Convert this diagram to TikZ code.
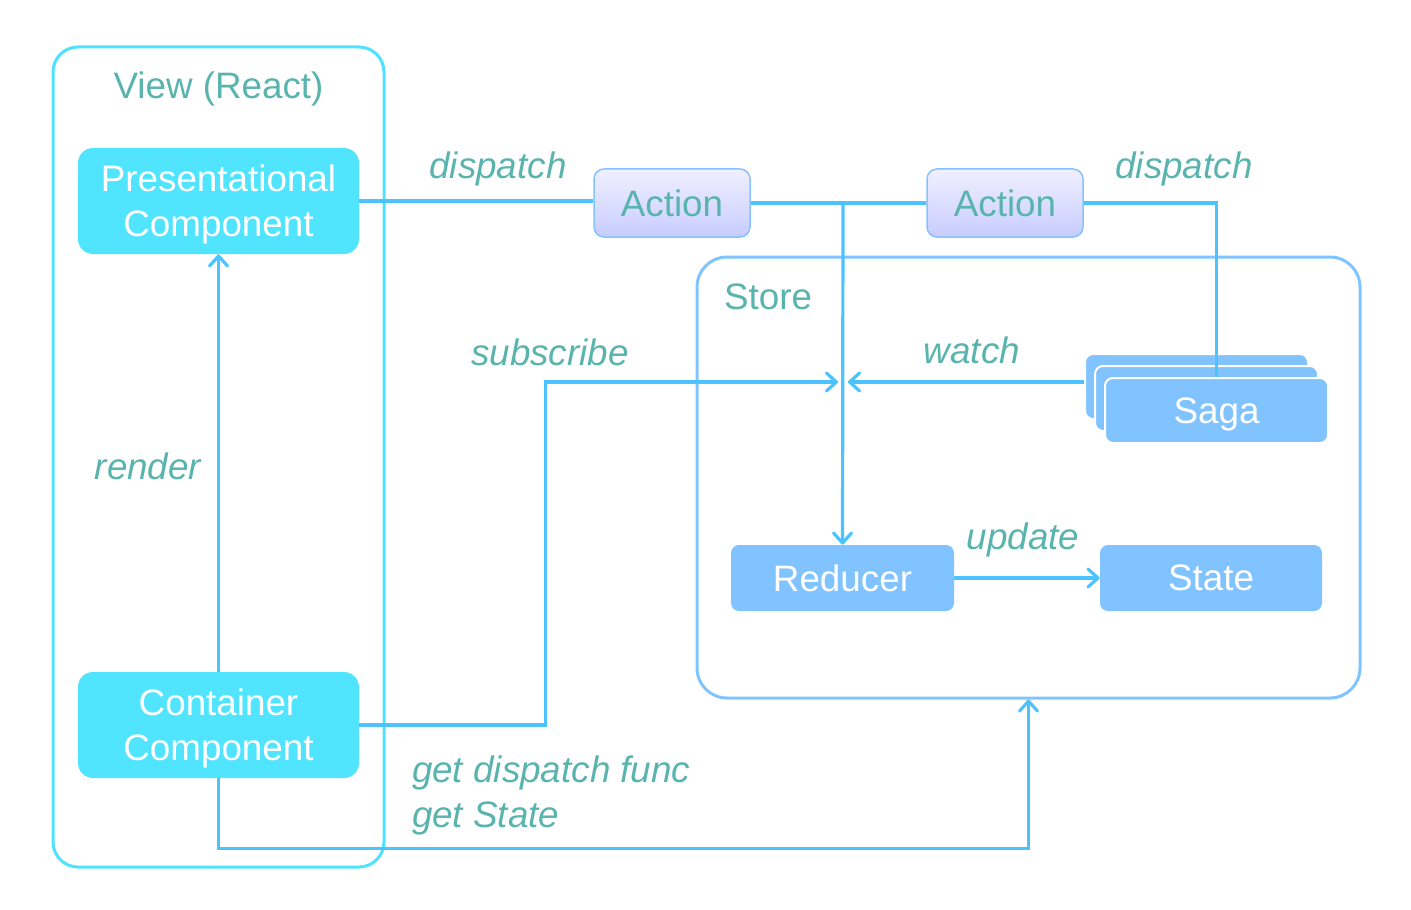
\documentclass[tikz,border=0pt]{standalone}
\usepackage{fontspec}
\setmainfont{Liberation Sans}
\usetikzlibrary{arrows.meta,positioning}
\definecolor{viewCyan}{HTML}{4FE2FF}
\definecolor{compCyan}{HTML}{50E4FF}
\definecolor{flowBlue}{HTML}{4CC3FF}
\definecolor{storeBlue}{HTML}{80C4FF}
\definecolor{partBlue}{HTML}{80C3FF}
\definecolor{actEdge}{HTML}{85C2FF}
\definecolor{actTop}{HTML}{F0F0FF}
\definecolor{actBottom}{HTML}{C8CCFF}
\definecolor{labelTeal}{HTML}{5AB4AE}

\begin{document}
\begin{tikzpicture}[x=0.5pt,y=-0.5pt,
  font=\fontsize{18.4}{22.5}\selectfont,
  frame/.style={line width=1.5pt,align=center},
  comp/.style={fill=compCyan,rounded corners=7.5pt,minimum width=140.5pt,minimum height=53pt,align=center,text=white,text depth=0pt},
  act/.style={draw=actEdge,line width=0.75pt,top color=actTop,bottom color=actBottom,rounded corners=5pt,minimum width=78pt,minimum height=34pt,text=labelTeal},
  part/.style={fill=partBlue,rounded corners=4pt,minimum width=111.5pt,minimum height=33pt,text=white},
  flow/.style={flowBlue,line width=1.6pt},
  arrowflow/.style={flow,-{Straight Barb[length=5pt,width=9pt,round]}},
  lbl/.style={text=labelTeal,font=\fontsize{18.4}{22.5}\selectfont\itshape}]
  \useasboundingbox (0,0) rectangle (1411,909);

  % containers
  \node[frame,draw=viewCyan,rounded corners=12.5pt,minimum width=165.5pt,minimum height=410pt] (view) at (218.5,457) {};
  \node[text=labelTeal] (viewTitle) at (218.5,89) {View (React)};
  \node[frame,draw=storeBlue,rounded corners=15pt,minimum width=331.5pt,minimum height=220.5pt] (store) at (1028.5,477.5) {};
  \node[text=labelTeal,anchor=west] (storeTitle) at (717,297) {Store};

  % components
  \node[comp] (pres) at (218.5,201) {Presentational\\Component};
  \node[comp] (cont) at (218.5,725) {Container\\Component};

  % actions
  \node[act] (act1) at (672,203) {Action};
  \node[act] (act2) at (1005,203) {Action};

  % store parts
  \node[part,draw=white,line width=1pt,minimum height=32.5pt] (sagaBack) at (1196.5,386.5) {};
  \node[part,draw=white,line width=1pt,minimum height=32.5pt] (sagaMid) at (1206.5,398.5) {};
  \node[part,draw=white,line width=1pt,minimum height=32.5pt,text depth=0pt] (sagaFront) at (1216.5,410.5) {Saga};
  \node[part] (reducer) at (842.5,578) {Reducer};
  \node[part,minimum width=111pt] (state) at (1211,578) {State};

  \coordinate (split) at (843,203);
  \coordinate (hub) at (843,382);

  % connectors
  \draw[arrowflow] (cont.north) -- (pres.south);
  \draw[flow] (pres.east) -- (act1.west |- pres.east);
  \draw[flow] (act1.east) -- (split);
  \draw[flow] (act2.west) -- (split);
  \draw[arrowflow] (split) -- (reducer.north);
  \draw[flow] (act2.east) -| (sagaFront.north);
  \draw[arrowflow,shorten >=2.5pt] (sagaBack.west |- hub) -- (hub);
  \draw[arrowflow,shorten >=2.5pt] (cont.east) -- ++(186,0) |- (hub);
  \draw[arrowflow] (reducer.east) -- (state.west);
  \draw[arrowflow] (cont.south) -- ++(0,70) -| (store.south);

  % labels
  \node[lbl] (renderLbl) at (148,466) {render};
  \node[lbl] (dispatchLbl) at (498,169) {dispatch};
  \node[lbl] (dispatchSagaLbl) at (1184,169) {dispatch};
  \node[lbl] (subscribeLbl) at (550,352) {subscribe};
  \node[lbl] (watchLbl) at (972,350) {watch};
  \node[lbl] (updateLbl) at (1023,540) {update};
  \node[lbl,anchor=west,align=left] (getLbl) at (405,795) {get dispatch func\\get State};
\end{tikzpicture}
\end{document}
